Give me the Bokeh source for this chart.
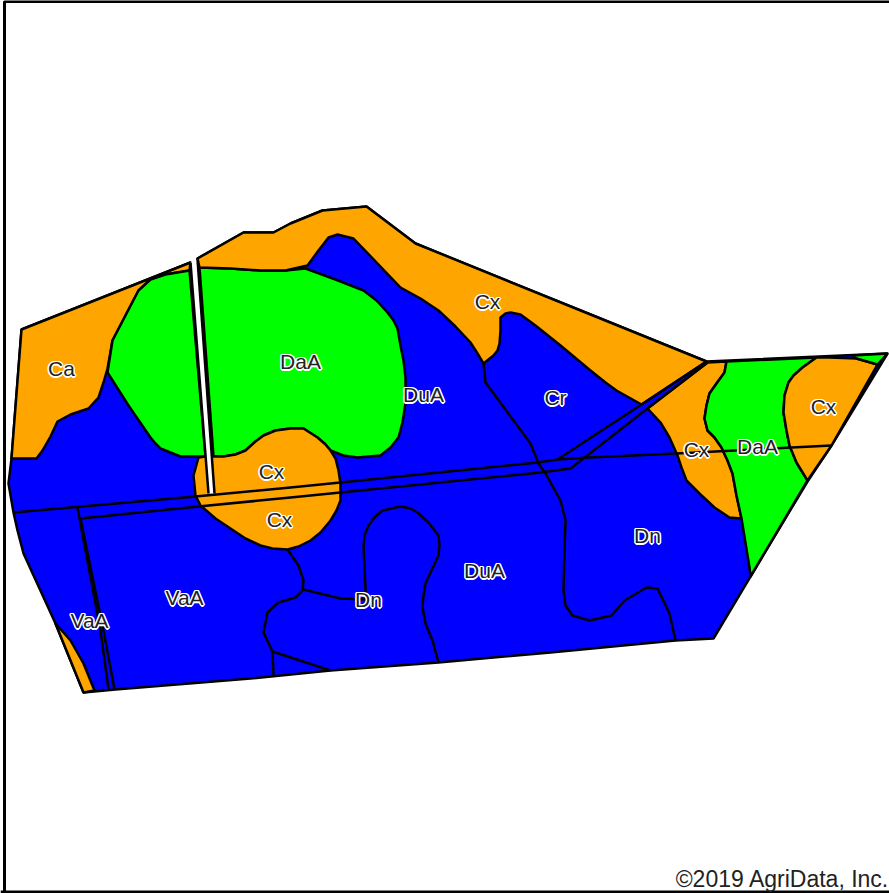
from bokeh.plotting import figure
from bokeh.embed import file_html
from bokeh.resources import INLINE
from bokeh.core.properties import value

BLUE = "#0000ff"
ORANGE = "#ffa500"
GREEN = "#00ff00"

field_x = [197,243,273,290,322,366,415,590,706,887,831,807,750,713,675,550,438,330,250,115,83,55,23,17,13,8,11,21,190,208,214]
field_y = [258,232,232,223,210,206,243,314,361,353,445,481,576,638,640,652,662,670,678,689,692,623,553,530,512,483,458,329,262,493,493]

ca_x = [190,21,11,36,42,50,57,70,88,98,103,107,112,125,138,150,165,189]
ca_y = [262,329,458,458,450,436,421,414,408,397,382,368,340,315,290,279,274,270]

daa_left_x = [189,165,150,138,125,112,107,128,150,155,160,180,205]
daa_left_y = [270,274,279,290,315,340,372,405,437,443,448,456,456]

daa_mid_x = [199,230,260,285,305,335,363,376,387,393,397,400,403,405,405,402,398,390,380,368,357,343,330,325,317,303,290,275,263,255,245,235,223,213]
daa_mid_y = [267,268,270,270,268,279,290,300,312,320,328,345,360,377,403,422,437,447,455,456,457,455,450,444,437,428,428,430,435,441,450,454,456,456]

cx_top_x = [197,243,273,290,322,366,415,590,706,641,616,605,590,560,535,520,510,505,500,500,499,497,493,483,477,470,455,438,420,400,353,337,328,318,307,285,260,230,199]
cx_top_y = [258,232,232,223,210,206,243,314,361,404,390,382,370,345,325,314,312,313,317,330,343,350,355,363,353,342,326,310,298,287,238,234,237,250,265,270,270,268,267]

cx_center_x = [205,223,235,245,255,263,275,290,303,317,325,330,335,338,340,340,336,330,320,310,298,287,272,260,245,233,215,200,195,193,198]
cx_center_y = [456,456,454,450,441,435,430,428,428,437,444,450,458,470,483,500,510,520,532,540,546,549,548,545,538,530,518,505,495,475,457]

cx_corner_x = [55,70,83,94,83]
cx_corner_y = [623,640,663,690,692]

cx_east_x = [707,726,724,716,709,706,704,707,714,721,727,732,736,741,729,714,700,686,681,677,669,660,647]
cx_east_y = [362,361,372,383,393,405,418,430,437,447,460,473,495,518,517,507,494,480,467,455,437,422,408]

daa_east_x = [726,816,802,793,788,784,783,786,789,796,807,750,749,741,736,732,727,721,714,707,704,706,709,716,724]
daa_east_y = [361,357,367,375,382,395,412,430,445,462,480,576,567,518,495,473,460,447,437,430,418,405,393,383,372]

cx_far_x = [816,829,856,877,831,807,796,789,786,783,784,788,793,802]
cx_far_y = [357,357,358,364,445,480,462,445,430,412,395,382,375,367]

daa_sliver_x = [852,887,877,856]
daa_sliver_y = [355,353,364,358]

strip_x = [190,197,214,208]
strip_y = [262,259,493,493]

strip_l_x = [190,208]
strip_l_y = [262,493]
strip_r_x = [197,214]
strip_r_y = [259,493]

road_upper_x = [13,195,290,340,537,557,589,676,831]
road_upper_y = [512,496,487,482,462,459,457,453,445]
road_lower_x = [80,198,290,340,540,570,647,707]
road_lower_y = [518,506,497,492,472,468,408,362]
road_diag_x = [557,641,706]
road_diag_y = [459,404,361]
road_west_a_x = [77,100,108]
road_west_a_y = [507,630,689]
road_west_b_x = [80,103,114]
road_west_b_y = [518,630,689]

soil_a_x = [483,485,530,538,545,560,565,564,563,565,572,589,611,624,646,657,669,675]
soil_a_y = [363,382,443,463,473,500,520,550,590,605,615,620,615,600,587,588,613,640]
soil_b_x = [287,298,303,302,295,278,267,263,272,273]
soil_b_y = [549,565,580,590,597,602,612,632,651,675]
soil_c_x = [272,330]
soil_c_y = [651,670]
soil_d_x = [303,340,365,365,363,364,368,374,382,400,410,417,428,438,439,438,431,425,423,422,425,432,438]
soil_d_y = [589,598,599,588,547,535,525,517,510,506,508,512,522,535,545,555,570,583,595,607,623,640,662]

label_text = ["Ca","DaA","DuA","Cx","Cr","Cx","Cx","DaA","Cx","Cx","Dn","DuA","Dn","VaA","VaA"]
label_x = [61,300,423,487,555,823,696,757,271,279,647,484,368,184,89]
label_y = [368,361,394,301,397,406,449,446,471,519,535,570,599,597,620]

frame_x = [4,4,900]
frame_y = [900,1,1]
frame_b_x = [0,889]
frame_b_y = [891.5,891.5]

p = figure(width=889, height=893, x_range=(0,889), y_range=(893,0),
           output_backend="svg", toolbar_location=None, min_border=0)
p.axis.visible = False
p.grid.visible = False
p.outline_line_color = None
p.background_fill_color = "white"
p.border_fill_color = "white"

p.patch(field_x, field_y, fill_color=BLUE, line_color="black", line_width=2.5)

polys = [(ca_x,ca_y,ORANGE),(daa_left_x,daa_left_y,GREEN),(daa_mid_x,daa_mid_y,GREEN),
         (cx_top_x,cx_top_y,ORANGE),(cx_center_x,cx_center_y,ORANGE),(cx_corner_x,cx_corner_y,ORANGE),
         (cx_east_x,cx_east_y,ORANGE),(daa_east_x,daa_east_y,GREEN),(cx_far_x,cx_far_y,ORANGE),
         (daa_sliver_x,daa_sliver_y,GREEN)]
p.patches([a[0] for a in polys],[a[1] for a in polys],fill_color=[a[2] for a in polys],
          line_color="black",line_width=2.5,line_join="round")

p.patch(strip_x, strip_y, fill_color="white", line_color=None)

lines = [(strip_l_x,strip_l_y),(strip_r_x,strip_r_y),(road_upper_x,road_upper_y),(road_lower_x,road_lower_y),
         (road_diag_x,road_diag_y),(road_west_a_x,road_west_a_y),(road_west_b_x,road_west_b_y),
         (soil_a_x,soil_a_y),(soil_b_x,soil_b_y),(soil_c_x,soil_c_y),(soil_d_x,soil_d_y)]
p.multi_line([a[0] for a in lines],[a[1] for a in lines],line_color="black",line_width=2.5,line_join="round")

for dx, dy in [(-1.5,0),(1.5,0),(0,-1.5),(0,1.5),(-1,-1),(1,-1),(-1,1),(1,1)]:
    p.text(label_x,label_y,text=label_text,text_font=value("Liberation Sans"),text_font_size="21px",
           text_color="white",x_offset=dx,y_offset=dy,text_align="center",text_baseline="middle")
p.text(label_x,label_y,text=label_text,text_font=value("Liberation Sans"),text_font_size="21px",
       text_color="#222222",text_align="center",text_baseline="middle")

p.line(frame_x,frame_y,line_color="black",line_width=3)
p.line(frame_b_x,frame_b_y,line_color="black",line_width=3)
p.text([889],[878],text=["©2019 AgriData, Inc."],text_font=value("Liberation Sans"),text_font_size="23px",
       text_color="#222222",text_align="right",text_baseline="alphabetic")

open("out.html","w").write(file_html(p,INLINE))
